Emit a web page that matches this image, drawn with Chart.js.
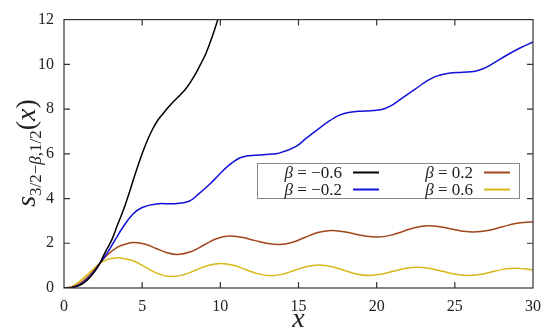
<!DOCTYPE html>
<html>
<head>
<meta charset="utf-8">
<script src="https://cdn.jsdelivr.net/npm/chart.js@4.4.1/dist/chart.umd.min.js"></script>
<style>
  html, body { margin: 0; padding: 0; background: #fff; }
  #wrap { width: 550px; height: 336px; }
</style>
</head>
<body>
<div id="wrap"><canvas id="chart"></canvas></div>
<script>
// values (x, s) for each beta
// beta = -0.6 (leaves the plot near x = 10)
const blackX = [0, 0.5, 1, 1.5, 2, 2.29, 2.6, 3.04, 3.4, 3.78, 4.1, 4.41, 4.73, 5.05, 5.37, 5.69, 6.0, 6.33,
                6.7, 7.07, 7.45, 7.82, 8.13, 8.45, 8.77, 9.09, 9.46, 9.83, 10.3];
const blackY = [0, 0.02, 0.12, 0.36, 0.78, 1.1, 1.55, 2.13, 2.78, 3.45, 4.1, 4.78, 5.47, 6.1, 6.66, 7.13, 7.5, 7.79,
                8.1, 8.38, 8.64, 8.93, 9.25, 9.62, 10.05, 10.51, 11.2, 11.98, 13.0];

// beta = -0.2
const blueX = [0, 0.5, 1, 1.5, 2, 2.29, 2.8, 3.25, 3.8, 4.4, 5.0, 5.9, 7.0, 8.0, 8.6, 9.3, 9.9, 10.5, 11.2, 11.8,
               12.48, 13.1, 13.76, 14.82, 15.5, 16.3, 17.0, 17.58, 18.2, 18.85, 19.6, 20.34, 20.9, 21.4, 22.46,
               23.1, 23.74, 24.6, 25.5, 26.3, 26.8, 27.35, 28.4, 29.2, 30];
const blueY = [0, 0.02, 0.14, 0.4, 0.8, 1.1, 1.6, 2.13, 2.75, 3.3, 3.6, 3.76, 3.77, 3.88, 4.2, 4.63, 5.05, 5.46, 5.8,
               5.91, 5.95, 5.98, 6.03, 6.32, 6.7, 7.13, 7.48, 7.72, 7.85, 7.9, 7.93, 7.98, 8.14, 8.38, 8.89, 9.2,
               9.45, 9.6, 9.65, 9.69, 9.8, 10.0, 10.44, 10.74, 11.0];

// beta = 0.2
const brownX = [0, 0.5, 1, 1.5, 2, 2.29, 2.8, 3.4, 3.95, 4.52, 5.21, 5.9, 6.59, 7.28, 8.1, 8.93, 9.75, 10.57,
                11.37, 12.17, 12.96, 13.76, 14.58, 15.4, 16.23, 17.05, 17.8, 18.54, 19.29, 20.03, 20.85, 21.67,
                22.48, 23.3, 24.03, 24.75, 25.48, 26.2, 27.1, 28.0, 28.9, 29.8, 30];
const brownY = [0, 0.03, 0.2, 0.48, 0.85, 1.1, 1.5, 1.82, 1.97, 2.03, 1.952, 1.765, 1.578, 1.5, 1.62, 1.91, 2.2,
                2.32, 2.264, 2.13, 1.996, 1.94, 2.032, 2.255, 2.478, 2.57, 2.528, 2.425, 2.322, 2.28, 2.353, 2.53,
                2.707, 2.78, 2.739, 2.64, 2.541, 2.5, 2.566, 2.725, 2.884, 2.95, 2.945];

// beta = 0.6
const goldX = [0, 0.5, 1, 1.5, 2, 2.29, 2.8, 3.2, 3.57, 4.39, 5.22, 6.04, 6.86, 7.66, 8.45, 9.25, 10.04, 10.83,
               11.62, 12.41, 13.2, 13.98, 14.75, 15.53, 16.3, 17.1, 17.9, 18.7, 19.5, 20.27, 21.04, 21.8, 22.57,
               23.39, 24.22, 25.04, 25.86, 26.6, 27.33, 28.07, 28.8, 29.4, 30];
const goldY = [0, 0.06, 0.3, 0.6, 0.92, 1.1, 1.28, 1.335, 1.35, 1.227, 0.93, 0.633, 0.51, 0.596, 0.805, 1.014, 1.1,
               1.019, 0.825, 0.631, 0.55, 0.62, 0.79, 0.96, 1.03, 0.961, 0.795, 0.629, 0.56, 0.614, 0.745, 0.876,
               0.93, 0.876, 0.745, 0.614, 0.56, 0.607, 0.72, 0.833, 0.88, 0.86, 0.81];

const betaLabels = ['-0.6', '-0.2', '0.2', '0.6'];
const colors = ['#000000', '#1010d8', '#a0461c', '#d8b818'];

const xTicks = [0, 5, 10, 15, 20, 25, 30];
const yTicks = [0, 2, 4, 6, 8, 10, 12];

const serif = '"Liberation Serif", "DejaVu Serif", serif';

function toPoints(xv, yv) {
    return yv.map((y, i) => ({ x: xv[i], y: y }));
}

// box frame with inward ticks on all four sides
const frameTicks = {
    id: 'frameTicks',
    afterDraw(chart) {
        const { ctx, chartArea: a, scales } = chart;
        ctx.save();
        ctx.strokeStyle = '#333';
        ctx.lineWidth = 1.2;
        ctx.strokeRect(a.left, a.top, a.right - a.left, a.bottom - a.top);
        const len = 6;
        ctx.beginPath();
        xTicks.forEach(v => {
            const px = scales.x.getPixelForValue(v);
            if (v === 0 || v === 30) return;
            ctx.moveTo(px, a.bottom); ctx.lineTo(px, a.bottom - len);
            ctx.moveTo(px, a.top); ctx.lineTo(px, a.top + len);
        });
        yTicks.forEach(v => {
            const py = scales.y.getPixelForValue(v);
            if (v === 0 || v === 12) return;
            ctx.moveTo(a.left, py); ctx.lineTo(a.left + len, py);
            ctx.moveTo(a.right, py); ctx.lineTo(a.right - len, py);
        });
        ctx.stroke();
        ctx.restore();
    }
};

// legend drawn as a two column box inside the plot
const boxLegend = {
    id: 'boxLegend',
    afterDatasetsDraw(chart) {
        const ctx = chart.ctx;
        const left = 257, top = 163, w = 262, h = 35;
        ctx.save();
        ctx.fillStyle = '#fff';
        ctx.fillRect(left, top, w, h);
        ctx.strokeStyle = '#888';
        ctx.lineWidth = 1;
        ctx.strokeRect(left + 0.5, top + 0.5, w, h);
        const rows = [172.5, 189.5];
        const cols = [{ textEnd: 342, lineStart: 353 }, { textEnd: 473, lineStart: 484 }];
        chart.data.datasets.forEach((ds, i) => {
            const c = cols[Math.floor(i / 2)];
            const y = rows[i % 2];
            const rest = ' = ' + betaLabels[i].replace('-', '\u2212');
            ctx.textBaseline = 'middle';
            ctx.fillStyle = '#222';
            ctx.font = '17px ' + serif;
            const restW = ctx.measureText(rest).width;
            ctx.textAlign = 'left';
            ctx.fillText(rest, c.textEnd - restW, y + 1);
            ctx.font = 'italic 17px ' + serif;
            ctx.textAlign = 'right';
            ctx.fillText('\u03b2', c.textEnd - restW, y + 1);
            ctx.strokeStyle = ds.borderColor;
            ctx.lineWidth = 2;
            ctx.beginPath();
            ctx.moveTo(c.lineStart, y);
            ctx.lineTo(c.lineStart + 26, y);
            ctx.stroke();
        });
        ctx.restore();
    }
};

// rotated y label with subscript
const yLabel = {
    id: 'yLabel',
    afterDraw(chart) {
        const ctx = chart.ctx;
        const big = 'italic 28px ' + serif;
        const small = 'italic 17px ' + serif;
        const smallUp = '17px ' + serif;
        const parts = [
            { t: 's', f: big, dy: 0 },
            { t: '3/2\u2212', f: smallUp, dy: 6 },
            { t: '\u03b2', f: small, dy: 6 },
            { t: ',1/2', f: smallUp, dy: 6 },
            { t: '(', f: '28px ' + serif, dy: 0 },
            { t: 'x', f: big, dy: 0 },
            { t: ')', f: '28px ' + serif, dy: 0 }
        ];
        ctx.save();
        let total = 0;
        parts.forEach(p => { ctx.font = p.f; p.w = ctx.measureText(p.t).width; total += p.w; });
        ctx.translate(35, 153);
        ctx.rotate(-Math.PI / 2);
        ctx.fillStyle = '#222';
        ctx.textBaseline = 'alphabetic';
        ctx.textAlign = 'left';
        let x = -total / 2;
        parts.forEach(p => {
            ctx.font = p.f;
            ctx.fillText(p.t, x, p.dy);
            x += p.w;
        });
        ctx.restore();
    }
};

const series = [[blackX, blackY], [blueX, blueY], [brownX, brownY], [goldX, goldY]];
const datasets = series.map((s, i) => ({
    label: '\u03b2 = ' + betaLabels[i],
    data: toPoints(s[0], s[1]),
    borderColor: colors[i],
    backgroundColor: colors[i],
    borderWidth: 1.5,
    pointRadius: 0,
    tension: 0.4,
    fill: false
}));

new Chart(document.getElementById('chart'), {
    type: 'line',
    data: { datasets: datasets },
    options: {
        responsive: true,
        maintainAspectRatio: false,
        animation: false,
        layout: { padding: { top: 16, right: 15, left: 0, bottom: 0 } },
        plugins: {
            legend: { display: false },
            tooltip: { enabled: false }
        },
        scales: {
            x: {
                type: 'linear',
                min: 0,
                max: 30,
                afterBuildTicks: s => { s.ticks = xTicks.map(v => ({ value: v })); },
                afterFit: s => { s.height = 48; },
                grid: { display: false, drawTicks: false },
                border: { display: false },
                ticks: { padding: 9, color: '#222', font: { family: serif, size: 16 } },
                title: {
                    display: true,
                    text: 'x',
                    color: '#222',
                    padding: { top: 0, bottom: 0 },
                    font: { family: serif, size: 28, style: 'italic' }
                }
            },
            y: {
                min: 0,
                max: 12,
                afterBuildTicks: s => { s.ticks = yTicks.map(v => ({ value: v })); },
                afterFit: s => { s.width = 64; },
                grid: { display: false, drawTicks: false },
                border: { display: false },
                ticks: { padding: 10, color: '#222', font: { family: serif, size: 16 } }
            }
        }
    },
    plugins: [frameTicks, boxLegend, yLabel]
});
</script>
</body>
</html>
